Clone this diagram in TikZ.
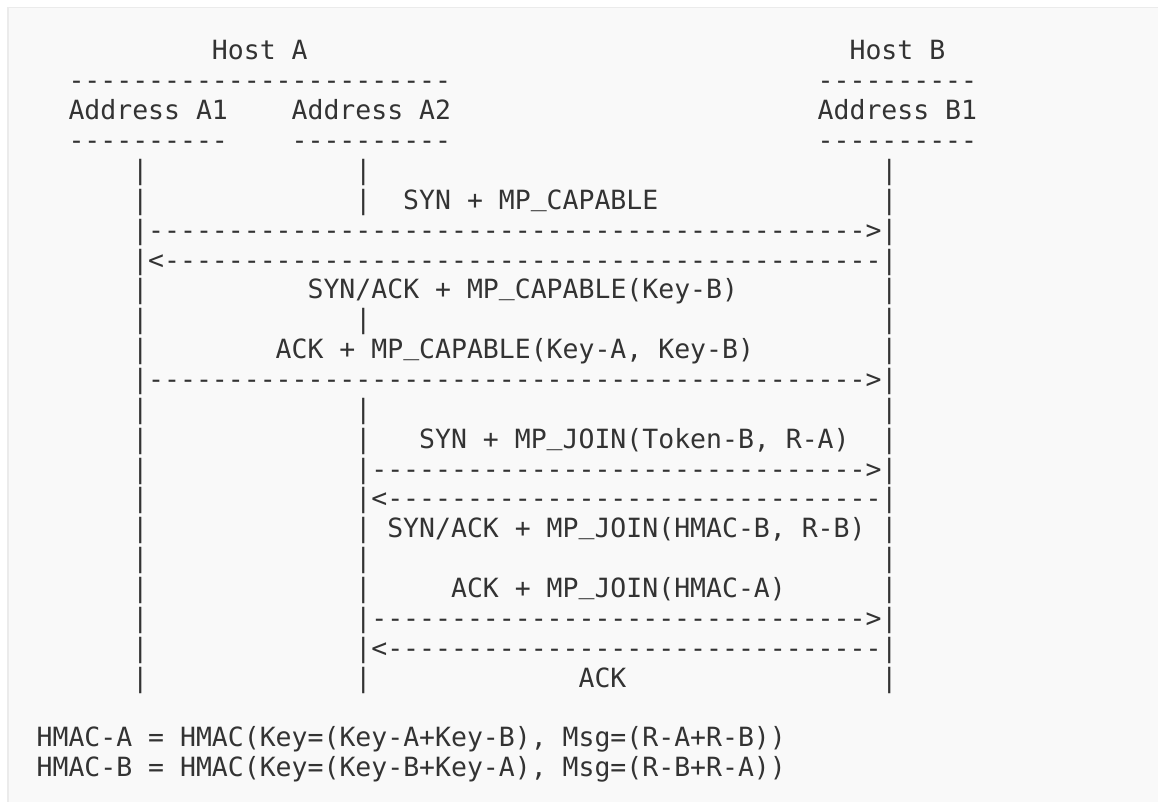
\documentclass[tikz,border=0pt]{standalone}
\usepackage{fontspec}
\setmonofont{DejaVu Sans Mono}
\definecolor{panelfill}{HTML}{F9F9F9}
\definecolor{panelrule}{HTML}{EBEBEB}
\definecolor{asciitext}{HTML}{333333}
\newcommand\dashrun[1]{\foreach \k in {1,...,#1}{-}}
\newcommand\us{\raisebox{0.15em}{\_}}
\tikzset{
  ascii/.style={inner sep=0pt, anchor=base west, text=asciitext,
    font=\ttfamily\fontsize{26.48}{30}\selectfont},
}
\begin{document}
\begin{tikzpicture}
  \useasboundingbox (0pt,0pt) rectangle (1158pt,-802pt);
  % code block panel
  \fill[panelfill] (7pt,-7pt) rectangle (1158pt,-802pt);
  \draw[panelrule, line width=1.5pt] (7.75pt,-802pt) -- (7.75pt,-7.75pt) -- (1158pt,-7.75pt);
  % one unit = one character cell of the ascii art
  \begin{scope}[x=15.94pt, y=-29.86pt, shift={(-11.4pt,-60pt)}]
    \node[ascii] (hostA) at (14,0) {Host A};
    \node[ascii] (hostB) at (54,0) {Host B};
    \node[ascii] (ruleHostA) at (5,1) {\dashrun{24}};
    \node[ascii] (ruleHostB) at (52,1) {\dashrun{10}};
    \node[ascii] (addrA1) at (5,2) {Address A1};
    \node[ascii] (addrA2) at (19,2) {Address A2};
    \node[ascii] (addrB1) at (52,2) {Address B1};
    \node[ascii] (ruleA1) at (5,3) {\dashrun{10}};
    \node[ascii] (ruleA2) at (19,3) {\dashrun{10}};
    \node[ascii] (ruleB1) at (52,3) {\dashrun{10}};
    % lifelines
    \foreach \r in {4,...,21} {
      \node[ascii] (barA1-\r) at (9,\r) {|};
      \node[ascii] (barB1-\r) at (56,\r) {|};
    }
    \foreach \r in {4,5,9,12,13,14,15,16,17,18,19,20,21}
      \node[ascii] (barA2-\r) at (23,\r) {|};
    % first subflow
    \node[ascii] (synCap) at (26,5) {SYN + MP\us CAPABLE};
    \node[ascii] (synCapArr) at (10,6) {\dashrun{45}>};
    \node[ascii] (synackCapArr) at (10,7) {<\dashrun{45}};
    \node[ascii] (synackCap) at (20,8) {SYN/ACK + MP\us CAPABLE(Key-B)};
    \node[ascii] (ackCap) at (18,10) {ACK + MP\us CAPABLE(Key-A, Key-B)};
    \node[ascii] (ackCapArr) at (10,11) {\dashrun{45}>};
    % second subflow
    \node[ascii] (synJoin) at (27,13) {SYN + MP\us JOIN(Token-B, R-A)};
    \node[ascii] (synJoinArr) at (24,14) {\dashrun{31}>};
    \node[ascii] (synackJoinArr) at (24,15) {<\dashrun{31}};
    \node[ascii] (synackJoin) at (25,16) {SYN/ACK + MP\us JOIN(HMAC-B, R-B)};
    \node[ascii] (ackJoin) at (29,18) {ACK + MP\us JOIN(HMAC-A)};
    \node[ascii] (ackJoinArr) at (24,19) {\dashrun{31}>};
    \node[ascii] (ackArr) at (24,20) {<\dashrun{31}};
    \node[ascii] (ack) at (37,21) {ACK};
    % hmac definitions
    \node[ascii] (hmacA) at (3,23) {HMAC-A = HMAC(Key=(Key-A+Key-B), Msg=(R-A+R-B))};
    \node[ascii] (hmacB) at (3,24) {HMAC-B = HMAC(Key=(Key-B+Key-A), Msg=(R-B+R-A))};
  \end{scope}
\end{tikzpicture}
\end{document}
